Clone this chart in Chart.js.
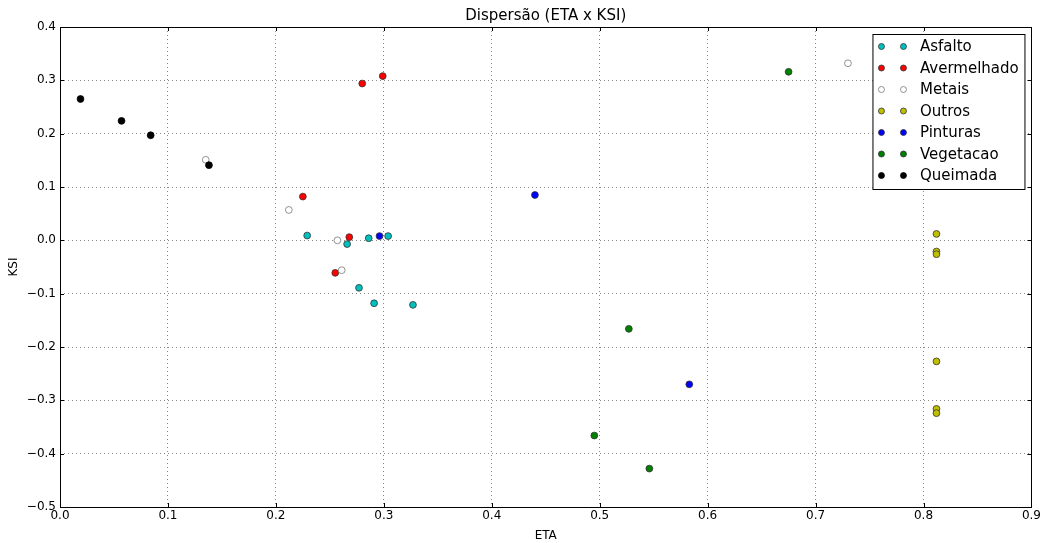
<!DOCTYPE html>
<html>
<head>
<meta charset="utf-8">
<title>Dispersão (ETA x KSI)</title>
<script src="https://cdn.jsdelivr.net/npm/chart.js@4/dist/chart.umd.min.js"></script>
<style>
  body { margin: 0; background: #fff; }
  #grafico_dispersao { display: block; }
</style>
</head>
<body>
<canvas id="grafico_dispersao" width="1043" height="543"></canvas>
<script>
// classes e valores
var categorias = ['Asfalto', 'Avermelhado', 'Metais', 'Outros', 'Pinturas', 'Vegetacao', 'Queimada'];

var etaAsfalto = [0.229, 0.266, 0.286, 0.304, 0.277, 0.291, 0.327];
var ksiAsfalto = [0.009, -0.007, 0.004, 0.008, -0.089, -0.118, -0.121];

var etaAvermelhado = [0.280, 0.299, 0.225, 0.268, 0.255];
var ksiAvermelhado = [0.294, 0.308, 0.082, 0.006, -0.061];

var etaMetais = [0.135, 0.212, 0.257, 0.261, 0.730];
var ksiMetais = [0.151, 0.057, 0.000, -0.056, 0.332];

var etaOutros = [0.812, 0.812, 0.812, 0.812, 0.812, 0.812];
var ksiOutros = [0.012, -0.021, -0.026, -0.227, -0.316, -0.324];

var etaPinturas = [0.296, 0.440, 0.583];
var ksiPinturas = [0.008, 0.085, -0.270];

var etaVegetacao = [0.675, 0.527, 0.495, 0.546];
var ksiVegetacao = [0.316, -0.166, -0.366, -0.428];

var etaQueimada = [0.019, 0.057, 0.084, 0.138];
var ksiQueimada = [0.265, 0.224, 0.197, 0.141];

var ticksEta = [0, 0.1, 0.2, 0.3, 0.4, 0.5, 0.6, 0.7, 0.8, 0.9];
var ticksKsi = [-0.5, -0.4, -0.3, -0.2, -0.1, 0.0, 0.1, 0.2, 0.3, 0.4];

var cores = ['#00bfbf', '#ff0000', '#ffffff', '#bfbf00', '#0000ff', '#008000', '#000000'];
var bordas = ['#333333', '#333333', '#777777', '#333333', '#333333', '#333333', '#000000'];

var etas = [etaAsfalto, etaAvermelhado, etaMetais, etaOutros, etaPinturas, etaVegetacao, etaQueimada];
var ksis = [ksiAsfalto, ksiAvermelhado, ksiMetais, ksiOutros, ksiPinturas, ksiVegetacao, ksiQueimada];

var fonte = 'DejaVu Sans';

function montarPontos(eta, ksi) {
    var pontos = [];
    for (var i = 0; i < eta.length; i++) {
        pontos.push({ x: eta[i], y: ksi[i] });
    }
    return pontos;
}

var conjuntos = [];
for (var i = 0; i < categorias.length; i++) {
    conjuntos.push({
        label: categorias[i],
        data: montarPontos(etas[i], ksis[i]),
        backgroundColor: cores[i],
        borderColor: bordas[i],
        borderWidth: 0.8,
        pointRadius: 3.4,
        order: categorias.length - i   // ultimo por cima, como no matplotlib
    });
}

function formatar(v) {
    return v.toFixed(1).replace('-', '\u2212');
}

// titulo centrado na area do grafico, moldura, ticks para dentro e legenda
var pluginMoldura = {
    id: 'moldura',
    afterDraw: function (chart) {
        var ctx = chart.ctx;
        var area = chart.chartArea;
        var sx = chart.scales.x;
        var sy = chart.scales.y;

        ctx.save();
        ctx.fillStyle = '#000';
        ctx.font = '15px "' + fonte + '"';
        ctx.textAlign = 'center';
        ctx.textBaseline = 'middle';
        ctx.fillText('Dispersão (ETA x KSI)', (area.left + area.right) / 2, 16);

        ctx.strokeStyle = '#000';
        ctx.lineWidth = 1;
        ctx.beginPath();
        ticksEta.forEach(function (t) {
            var px = Math.round(sx.getPixelForValue(t)) + 0.5;
            ctx.moveTo(px, area.bottom); ctx.lineTo(px, area.bottom - 4);
            ctx.moveTo(px, area.top); ctx.lineTo(px, area.top + 4);
        });
        ticksKsi.forEach(function (t) {
            var py = Math.round(sy.getPixelForValue(t)) + 0.5;
            ctx.moveTo(area.left, py); ctx.lineTo(area.left + 4, py);
            ctx.moveTo(area.right, py); ctx.lineTo(area.right - 4, py);
        });
        ctx.stroke();
        ctx.strokeRect(Math.round(area.left) + 0.5, Math.round(area.top) + 0.5,
            Math.round(area.right - area.left), Math.round(area.bottom - area.top));

        // legenda
        var caixaX = area.right - 158.5;
        var caixaY = area.top + 7.5;
        var largura = 152;
        var passo = 21.5;
        var altura = 14 + passo * (chart.data.datasets.length - 1) + 12;
        ctx.fillStyle = '#fff';
        ctx.fillRect(caixaX, caixaY, largura, altura);
        ctx.strokeRect(caixaX, caixaY, largura, altura);
        ctx.font = '15px "' + fonte + '"';
        ctx.textAlign = 'left';
        chart.data.datasets.forEach(function (ds, k) {
            var cy = caixaY + 12 + k * passo;
            [caixaX + 8.5, caixaX + 30.5].forEach(function (cx) {
                ctx.beginPath();
                ctx.arc(cx, cy, 3, 0, Math.PI * 2);
                ctx.fillStyle = ds.backgroundColor;
                ctx.fill();
                ctx.lineWidth = 0.8;
                ctx.strokeStyle = ds.borderColor;
                ctx.stroke();
            });
            ctx.fillStyle = '#000';
            ctx.fillText(ds.label, caixaX + 47, cy + 1);
        });
        ctx.restore();
    }
};

var contexto = document.getElementById('grafico_dispersao').getContext('2d');

var grafico = new Chart(contexto, {
    type: 'scatter',
    data: { datasets: conjuntos },
    options: {
        responsive: false,
        animation: false,
        layout: { padding: { top: 27, right: 11, left: 0, bottom: 0 } },
        plugins: {
            legend: { display: false },
            title: { display: false },
            tooltip: { enabled: false }
        },
        scales: {
            x: {
                type: 'linear',
                min: 0,
                max: 0.9,
                afterFit: function (s) { s.height = 36; },
                afterBuildTicks: function (s) {
                    s.ticks = ticksEta.map(function (v) { return { value: v }; });
                },
                ticks: {
                    color: '#000',
                    font: { family: fonte, size: 12 },
                    padding: 2,
                    maxRotation: 0,
                    callback: function (v) { return formatar(v); }
                },
                grid: { color: '#8a8a8a', lineWidth: 1, drawTicks: false },
                border: { display: false, dash: [1, 3] },
                title: {
                    display: true,
                    text: 'ETA',
                    color: '#000',
                    font: { family: fonte, size: 12 },
                    padding: { top: 0, bottom: 0 }
                }
            },
            y: {
                type: 'linear',
                min: -0.5,
                max: 0.4,
                afterFit: function (s) { s.width = 60; },
                afterBuildTicks: function (s) {
                    s.ticks = ticksKsi.map(function (v) { return { value: v }; });
                },
                ticks: {
                    color: '#000',
                    font: { family: fonte, size: 12 },
                    padding: 4,
                    callback: function (v) { return formatar(v); }
                },
                grid: { color: '#8a8a8a', lineWidth: 1, drawTicks: false },
                border: { display: false, dash: [1, 3] },
                title: {
                    display: true,
                    text: 'KSI',
                    color: '#000',
                    font: { family: fonte, size: 12 },
                    padding: { top: 7, bottom: 0 }
                }
            }
        }
    },
    plugins: [pluginMoldura]
});
</script>
</body>
</html>
